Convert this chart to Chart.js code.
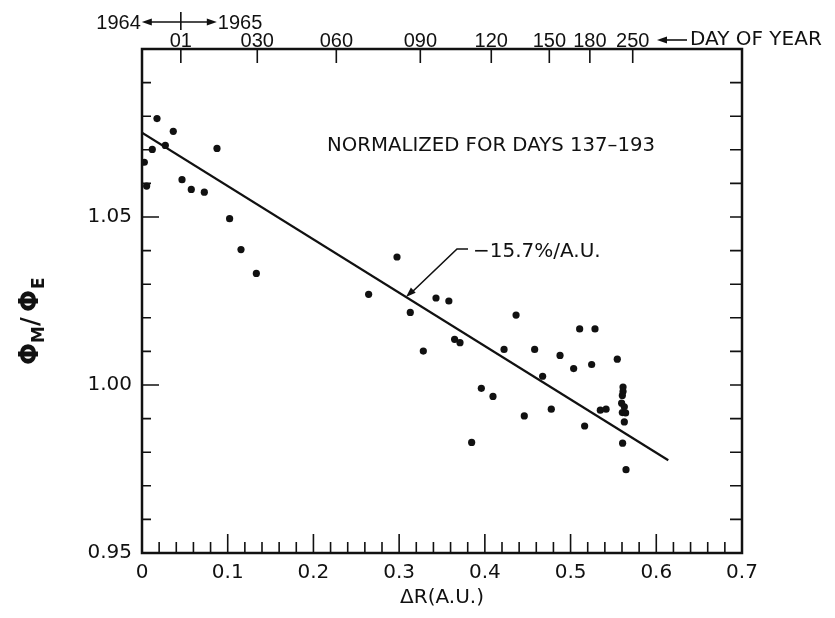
<!DOCTYPE html>
<html>
<head>
<meta charset="utf-8">
<script src="https://cdn.jsdelivr.net/npm/chart.js@4.4.1/dist/chart.umd.min.js"></script>
<style>
  body { margin: 0; background: #fff; }
  #wrap { width: 835px; height: 618px; }
</style>
</head>
<body>
<div id="wrap"><canvas id="fluxChart" width="835" height="618"></canvas></div>
<script>
// Measured points: radial distance ΔR (A.U.) and normalized flux ratio ΦM/ΦE
const deltaR = [0.0175, 0.0365, 0.0272, 0.0120, 0.0875, 0.0027, 0.0467, 0.0054, 0.0575, 0.0727,
    0.1022, 0.1155, 0.1334, 0.2644, 0.2975, 0.3130, 0.3282, 0.3430, 0.3580, 0.3647,
    0.3710, 0.3846, 0.3959, 0.4095, 0.4224, 0.4364, 0.4460, 0.4581, 0.4674, 0.4775,
    0.4877, 0.5036, 0.5106, 0.5164, 0.5246, 0.5285, 0.5347, 0.5414, 0.5545, 0.5627,
    0.5607, 0.5647, 0.5612, 0.5612, 0.5604, 0.5596, 0.5627, 0.5604, 0.5642];
const fluxRatio = [1.0793, 1.0755, 1.0713, 1.0701, 1.0704, 1.0663, 1.0611, 1.0592, 1.0582, 1.0574,
    1.0495, 1.0403, 1.0332, 1.0270, 1.0381, 1.0216, 1.0101, 1.0259, 1.0250, 1.0136,
    1.0126, 0.9829, 0.9990, 0.9966, 1.0106, 1.0208, 0.9908, 1.0106, 1.0026, 0.9928,
    1.0088, 1.0049, 1.0167, 0.9878, 1.0061, 1.0167, 0.9925, 0.9928, 1.0077, 0.9890,
    0.9827, 0.9748, 0.9994, 0.9981, 0.9969, 0.9946, 0.9935, 0.9918, 0.9917];

// Fitted line (-15.7 %/A.U.)
const fitR = [0, 0.614];
const fitRatio = [1.0751, 0.9776];

// Day-of-year scale along the top edge
const dayLabels = ['01', '030', '060', '090', '120', '150', '180', '250'];
const dayR = [0.0453, 0.1345, 0.2267, 0.3247, 0.4075, 0.4752, 0.5225, 0.5725];

// Which ticks get a number
const xLabelTicks = [0, 0.1, 0.2, 0.3, 0.4, 0.5, 0.6, 0.7];
const yLabelTicks = [0.95, 1.00, 1.05];

const ink = '#111';
const face = "'DejaVu Sans', sans-serif";
const narrowFace = "'Liberation Sans', sans-serif";

const points = deltaR.map((r, i) => ({ x: r, y: fluxRatio[i] }));
const fitLine = fitR.map((r, i) => ({ x: r, y: fitRatio[i] }));

function isLabelled(list, v) {
    return list.some(t => Math.abs(t - v) < 1e-6);
}

function arrowHead(ctx, x, y, angle) {
    ctx.save();
    ctx.translate(x, y);
    ctx.rotate(angle);
    ctx.beginPath();
    ctx.moveTo(0, 0);
    ctx.lineTo(-10, -3.5);
    ctx.lineTo(-10, 3.5);
    ctx.closePath();
    ctx.fill();
    ctx.restore();
}

// Frame, inward ticks and the hand lettering
const decorations = {
    id: 'decorations',
    afterDatasetsDraw(chart) {
        const { ctx, chartArea: a, scales } = chart;
        ctx.save();
        ctx.strokeStyle = ink;
        ctx.fillStyle = ink;

        ctx.lineWidth = 2.5;
        ctx.strokeRect(a.left, a.top, a.right - a.left, a.bottom - a.top);

        ctx.lineWidth = 1.6;
        ctx.beginPath();
        scales.x.ticks.forEach(t => {
            const px = scales.x.getPixelForValue(t.value);
            if (px <= a.left + 1 || px >= a.right - 1) return;
            const len = isLabelled(xLabelTicks, t.value) ? 19 : 11;
            ctx.moveTo(px, a.bottom);
            ctx.lineTo(px, a.bottom - len);
        });
        scales.y.ticks.forEach(t => {
            const py = scales.y.getPixelForValue(t.value);
            if (py <= a.top + 1 || py >= a.bottom - 1) return;
            const len = isLabelled(yLabelTicks, t.value) ? 17 : 9;
            ctx.moveTo(a.left, py);
            ctx.lineTo(a.left + len, py);
            ctx.moveTo(a.right, py);
            ctx.lineTo(a.right - 12, py);
        });
        scales.x2.ticks.forEach(t => {
            const px = scales.x2.getPixelForValue(t.value);
            ctx.moveTo(px, a.top);
            ctx.lineTo(px, a.top + 14);
        });
        ctx.stroke();

        // 1964 <- | -> 1965 marker above day 01
        const x01 = scales.x2.getPixelForValue(dayR[0]);
        ctx.beginPath();
        ctx.moveTo(x01, 12);
        ctx.lineTo(x01, a.top - 19);
        ctx.moveTo(x01 - 32, 22);
        ctx.lineTo(x01 + 30, 22);
        ctx.stroke();
        arrowHead(ctx, x01 - 39, 22, Math.PI);
        arrowHead(ctx, x01 + 36, 22, 0);
        ctx.font = '20px ' + narrowFace;
        ctx.textBaseline = 'middle';
        ctx.textAlign = 'right';
        ctx.fillText('1964', x01 - 40, 23);
        ctx.textAlign = 'left';
        ctx.fillText('1965', x01 + 37, 23);

        // <- DAY OF YEAR
        ctx.beginPath();
        ctx.moveTo(664, 40);
        ctx.lineTo(687, 40);
        ctx.stroke();
        arrowHead(ctx, 657, 40, Math.PI);
        ctx.font = '20px ' + face;
        ctx.fillText('DAY OF YEAR', 690, 40, 140);

        ctx.fillText('NORMALIZED FOR DAYS 137–193', 327, 146, 328);

        // slope annotation with arrow onto the fitted line
        const tipR = 0.308;
        const tipV = fitRatio[0] + (fitRatio[1] - fitRatio[0]) * (tipR - fitR[0]) / (fitR[1] - fitR[0]);
        const tx = scales.x.getPixelForValue(tipR);
        const ty = scales.y.getPixelForValue(tipV);
        ctx.beginPath();
        ctx.moveTo(tx + 62, ty - 48);
        ctx.lineTo(tx + 51, ty - 48);
        ctx.lineTo(tx + 5, ty - 4);
        ctx.stroke();
        arrowHead(ctx, tx, ty, Math.atan2(48, -51));
        ctx.fillText('−15.7%/A.U.', tx + 67, ty - 45, 132);

        // y-axis title ΦM / ΦE, rotated
        ctx.translate(38, 365);
        ctx.rotate(-Math.PI / 2);
        ctx.textBaseline = 'alphabetic';
        ctx.font = 'bold 26px ' + face;
        ctx.fillText('Φ', 0, 0);
        ctx.font = 'bold 17px ' + face;
        ctx.fillText('M', 22, 6);
        ctx.font = 'bold 24px ' + face;
        ctx.fillText('/', 39, 0);
        ctx.font = 'bold 26px ' + face;
        ctx.fillText('Φ', 53, 0);
        ctx.font = 'bold 17px ' + face;
        ctx.fillText('E', 76, 6);
        ctx.restore();
    }
};

const tickFont = { family: face, size: 20 };

new Chart(document.getElementById('fluxChart'), {
    type: 'scatter',
    data: {
        datasets: [{
            label: 'ΦM/ΦE',
            data: points,
            pointRadius: 3.6,
            pointBackgroundColor: ink,
            pointBorderWidth: 0,
            showLine: false
        }, {
            label: 'fit',
            data: fitLine,
            showLine: true,
            borderColor: ink,
            borderWidth: 2.2,
            pointRadius: 0,
            fill: false
        }]
    },
    options: {
        responsive: false,
        animation: false,
        devicePixelRatio: 1,
        layout: { padding: { left: 0, right: 93, top: 0, bottom: 0 } },
        plugins: {
            legend: { display: false },
            tooltip: { enabled: false }
        },
        scales: {
            x: {
                type: 'linear',
                position: 'bottom',
                min: 0,
                max: 0.7,
                grid: { display: false, drawTicks: false },
                border: { display: false },
                ticks: {
                    stepSize: 0.02,
                    autoSkip: false,
                    maxRotation: 0,
                    minRotation: 0,
                    padding: 8,
                    color: ink,
                    font: tickFont,
                    callback: v => {
                        if (!isLabelled(xLabelTicks, v)) return '';
                        return v < 1e-6 ? '0' : v.toFixed(1);
                    }
                },
                title: {
                    display: true,
                    text: 'ΔR(A.U.)',
                    color: ink,
                    font: { family: face, size: 20 },
                    padding: { top: 0, bottom: 8 }
                },
                afterFit: s => { s.height = 65; }
            },
            x2: {
                type: 'linear',
                position: 'top',
                min: 0,
                max: 0.7,
                grid: { display: false, drawTicks: false },
                border: { display: false },
                afterBuildTicks: s => { s.ticks = dayR.map(v => ({ value: v })); },
                ticks: {
                    autoSkip: false,
                    maxRotation: 0,
                    minRotation: 0,
                    padding: -4,
                    color: ink,
                    font: { family: narrowFace, size: 20 },
                    callback: (v, i) => dayLabels[i]
                },
                afterFit: s => { s.height = 49; }
            },
            y: {
                type: 'linear',
                min: 0.95,
                max: 1.10,
                grid: { display: false, drawTicks: false },
                border: { display: false },
                ticks: {
                    stepSize: 0.01,
                    autoSkip: false,
                    padding: 10,
                    color: ink,
                    font: tickFont,
                    callback: v => isLabelled(yLabelTicks, v) ? v.toFixed(2) : ''
                },
                afterFit: s => { s.width = 142; }
            }
        }
    },
    plugins: [decorations]
});
</script>
</body>
</html>
